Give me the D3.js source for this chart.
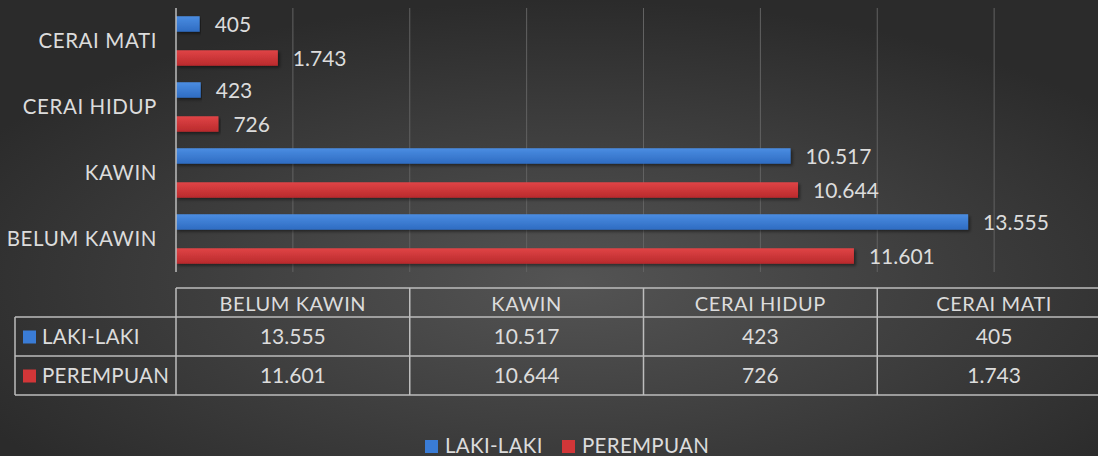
<!DOCTYPE html>
<html>
<head>
<meta charset="utf-8">
<script src="https://cdn.jsdelivr.net/npm/d3@7"></script>
<style>
  html, body { margin: 0; padding: 0; background: #333; }
  svg { display: block; }
  text { font-family: Lato, "Open Sans", sans-serif; fill: #dcdcdc; }
</style>
</head>
<body>
<div id="chart"></div>
<script>
// Data
const categories = ['BELUM KAWIN', 'KAWIN', 'CERAI HIDUP', 'CERAI MATI'];
const seriesNames = ['LAKI-LAKI', 'PEREMPUAN'];
const lakiLaki = [13555, 10517, 423, 405];
const perempuan = [11601, 10644, 726, 1743];
const xTicks = [0, 2000, 4000, 6000, 8000, 10000, 12000, 14000, 16000];

const width = 1098, height = 456;
const colors = { 'LAKI-LAKI': '#3a7cd6', 'PEREMPUAN': '#d23638' };

const idFmt = d3.formatLocale({ decimal: ',', thousands: '.', grouping: [3], currency: ['', ''] }).format(',d');

const svg = d3.select('#chart').append('svg')
  .attr('width', width)
  .attr('height', height);

const defs = svg.append('defs');

// background gradient
const bg = defs.append('radialGradient')
  .attr('id', 'bg')
  .attr('cx', '52%').attr('cy', '62%').attr('r', '62%')
  .attr('gradientUnits', 'objectBoundingBox');
bg.append('stop').attr('offset', '0%').attr('stop-color', '#545454');
bg.append('stop').attr('offset', '100%').attr('stop-color', '#2b2b2b');

// bar gradients
const barGrad = (id, top, bottom) => {
  const g = defs.append('linearGradient').attr('id', id)
    .attr('x1', 0).attr('y1', 0).attr('x2', 0).attr('y2', 1);
  g.append('stop').attr('offset', '0%').attr('stop-color', top);
  g.append('stop').attr('offset', '100%').attr('stop-color', bottom);
};
barGrad('g-laki', '#4a8de2', '#2f6cc2');
barGrad('g-per', '#e04446', '#b92a2c');

const shadow = defs.append('filter').attr('id', 'shadow')
  .attr('x', '-5%').attr('y', '-30%').attr('width', '110%').attr('height', '180%');
shadow.append('feDropShadow')
  .attr('dx', 2).attr('dy', 2).attr('stdDeviation', 1.5)
  .attr('flood-color', '#000').attr('flood-opacity', 0.45);

svg.append('rect').attr('width', width).attr('height', height).attr('fill', 'url(#bg)');

// scales
const x = d3.scaleLinear().domain([0, 16000]).range([176, 1111]);
const y = d3.scaleBand().domain(categories.slice().reverse()).range([8, 272]);
const ySeries = d3.scaleBand().domain(seriesNames).range([0, y.bandwidth()]).paddingInner(0.06).paddingOuter(0.0);

// gridlines
svg.append('g')
  .selectAll('line')
  .data(xTicks.slice(1))
  .join('line')
  .attr('x1', d => x(d)).attr('x2', d => x(d))
  .attr('y1', 8).attr('y2', 272)
  .attr('stroke', '#626262').attr('stroke-width', 1);

// bars
const rows = categories.map((c, i) => ({
  cat: c,
  values: [
    { series: 'LAKI-LAKI', value: lakiLaki[i] },
    { series: 'PEREMPUAN', value: perempuan[i] }
  ]
}));

const barH = 15.5;
const groups = svg.append('g').selectAll('g')
  .data(rows)
  .join('g')
  .attr('transform', d => `translate(0,${y(d.cat)})`);

groups.selectAll('rect')
  .data(d => d.values)
  .join('rect')
  .attr('x', x(0))
  .attr('y', d => ySeries(d.series) + ySeries.bandwidth() / 2 - barH / 2)
  .attr('width', d => x(d.value) - x(0))
  .attr('height', barH)
  .attr('fill', d => d.series === 'LAKI-LAKI' ? 'url(#g-laki)' : 'url(#g-per)')
  .attr('filter', 'url(#shadow)');

groups.selectAll('text.val')
  .data(d => d.values)
  .join('text')
  .attr('class', 'val')
  .attr('x', d => x(d.value) + 15)
  .attr('y', d => ySeries(d.series) + ySeries.bandwidth() / 2)
  .attr('dy', '0.36em')
  .style('font-size', '21px')
  .text(d => idFmt(d.value));

// axis line
svg.append('line')
  .attr('x1', x(0)).attr('x2', x(0))
  .attr('y1', 8).attr('y2', 272)
  .attr('stroke', '#bdbdbd').attr('stroke-width', 1.5);

// category labels
svg.append('g').selectAll('text')
  .data(categories)
  .join('text')
  .attr('x', 157)
  .attr('y', d => y(d) + y.bandwidth() / 2)
  .attr('dy', '0.36em')
  .attr('text-anchor', 'end')
  .style('font-size', '20.5px')
  .style('letter-spacing', '0.6px')
  .text(d => d);

// data table
const tableTop = 288, headH = 29, rowH = 39;
const colEdges = [0, 4000, 8000, 12000, 16000].map(v => x(v));
const tbl = svg.append('g').attr('fill', 'none');
const lineColor = '#bdbdbd';

// horizontal lines
tbl.append('line').attr('x1', x(0)).attr('x2', width).attr('y1', tableTop).attr('y2', tableTop)
  .attr('stroke', lineColor).attr('stroke-width', 1.5);
[tableTop + headH, tableTop + headH + rowH, tableTop + headH + 2 * rowH].forEach(yy => {
  tbl.append('line').attr('x1', 15).attr('x2', width).attr('y1', yy).attr('y2', yy)
    .attr('stroke', lineColor).attr('stroke-width', 1.5);
});
// vertical lines
tbl.append('line').attr('x1', 15).attr('x2', 15)
  .attr('y1', tableTop + headH).attr('y2', tableTop + headH + 2 * rowH)
  .attr('stroke', lineColor).attr('stroke-width', 1.5);
colEdges.slice(0, 4).forEach(xx => {
  tbl.append('line').attr('x1', xx).attr('x2', xx)
    .attr('y1', tableTop).attr('y2', tableTop + headH + 2 * rowH)
    .attr('stroke', lineColor).attr('stroke-width', 1.5);
});

// header text
svg.append('g').selectAll('text')
  .data(categories)
  .join('text')
  .attr('x', (d, i) => (colEdges[i] + colEdges[i + 1]) / 2)
  .attr('y', tableTop + headH / 2 + 1)
  .attr('dy', '0.36em')
  .attr('text-anchor', 'middle')
  .style('font-size', '20px')
  .style('letter-spacing', '0.6px')
  .text(d => d);

const tableRows = [
  { name: 'LAKI-LAKI', values: lakiLaki },
  { name: 'PEREMPUAN', values: perempuan }
];
tableRows.forEach((r, ri) => {
  const cy = tableTop + headH + ri * rowH + rowH / 2;
  svg.append('rect')
    .attr('x', 23).attr('y', cy - 6).attr('width', 13).attr('height', 13)
    .attr('fill', colors[r.name]);
  svg.append('text')
    .attr('x', 42).attr('y', cy).attr('dy', '0.36em')
    .style('font-size', '20.5px')
    .style('letter-spacing', '0.3px')
    .text(r.name);
  svg.append('g').selectAll('text')
    .data(r.values)
    .join('text')
    .attr('x', (d, i) => (colEdges[i] + colEdges[i + 1]) / 2)
    .attr('y', cy)
    .attr('dy', '0.36em')
    .attr('text-anchor', 'middle')
    .style('font-size', '21px')
    .text(d => idFmt(d));
});

// legend
const legend = svg.append('g').attr('transform', 'translate(0,446)');
const legendX = [425, 562];
seriesNames.forEach((s, i) => {
  legend.append('rect')
    .attr('x', legendX[i]).attr('y', -6).attr('width', 13).attr('height', 13)
    .attr('fill', colors[s]);
  legend.append('text')
    .attr('x', legendX[i] + 20).attr('y', 0).attr('dy', '0.36em')
    .style('font-size', '20.5px')
    .style('letter-spacing', '0.3px')
    .text(s);
});
</script>
</body>
</html>
